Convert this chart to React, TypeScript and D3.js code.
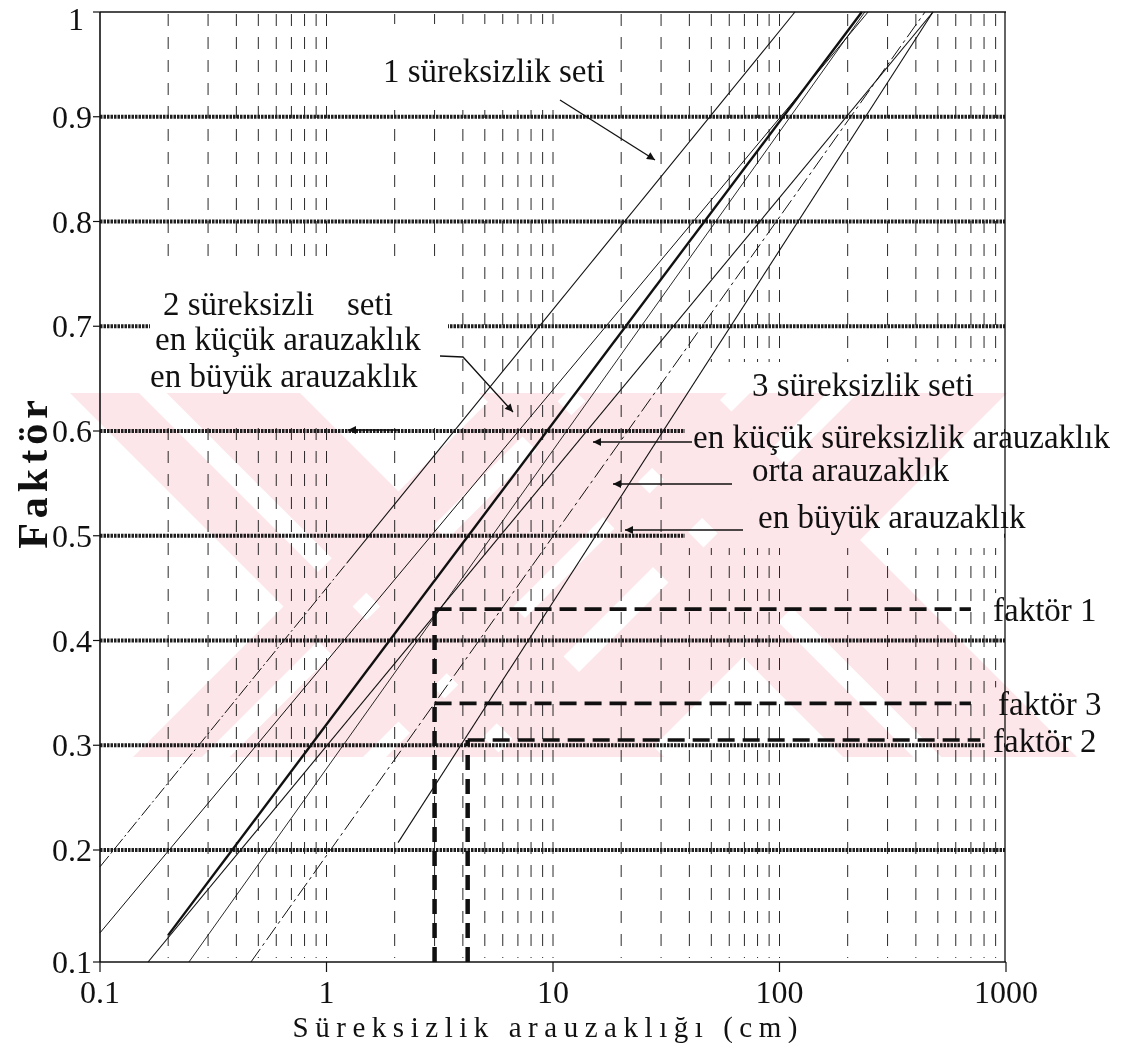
import * as d3 from 'd3';

// axis ticks
const xTickValues = [0.1, 1, 10, 100, 1000];
const xTickLabels = ['0.1', '1', '10', '100', '1000'];
const yTickValues = [0.1, 0.2, 0.3, 0.4, 0.5, 0.6, 0.7, 0.8, 0.9, 1];
const yTickLabels = ['0.1', '0.2', '0.3', '0.4', '0.5', '0.6', '0.7', '0.8', '0.9', '1'];
const gridLevels = [0.2, 0.3, 0.4, 0.5, 0.6, 0.7, 0.8, 0.9];

// diagonal lines: [spacing cm, factor] points
const set1 = [[0.1, 0.185], [1.23, 0.474], [117, 1]];
const set2Min = [[0.1, 0.126], [246, 1]];
const set2Max = [[0.2, 0.124], [231, 1]];
const set2Extra = [[0.247, 0.1], [238, 1]];
const set3Min = [[0.163, 0.1], [476, 1]];
const set3Mid = [[0.464, 0.1], [439, 1]];
const set3Max = [[2.07, 0.207], [476, 1]];

// factor readings
const factorNames = ['faktör 1', 'faktör 3', 'faktör 2'];
const factorSpacing = [3, 3, 4.2];
const factorValues = [0.43, 0.34, 0.305];
const factorEnds = [700, 700, 770];

const FONT = "'Liberation Serif', 'Times New Roman', serif";

export default function App() {
  const x = d3.scaleLog().domain([0.1, 1000]).range([100, 1006]);
  const y = d3.scaleLinear().domain([0.1, 0.2, 1]).range([962, 850, 12]);
  const line = d3
    .line<number[]>()
    .x((d) => x(d[0]))
    .y((d) => y(d[1]));

  const minor = x.ticks().filter((v) => v > 0.1 && v < 1000);

  const diagonals = [
    { pts: set1.slice(0, 2), w: 1, dash: '14 3 2 3' },
    { pts: set1.slice(1), w: 1.1, dash: undefined },
    { pts: set2Min, w: 1, dash: undefined },
    { pts: set2Max, w: 2.4, dash: undefined },
    { pts: set2Extra, w: 0.9, dash: undefined },
    { pts: set3Min, w: 1.1, dash: undefined },
    { pts: set3Mid, w: 1, dash: '16 4 3 4' },
    { pts: set3Max, w: 1.1, dash: undefined },
  ];

  // watermark bands (top-left x, width, direction)
  const bands = [
    [70, 230, 1],
    [497, 230, -1],
    [479, 234, 1],
    [750, 257, -1],
  ];
  const wmTop = 393;
  const wmH = 364;
  const bandPoly = (a: number, w: number, dir: number, f0: number, f1: number) => {
    const s = dir * wmH;
    const l = a + w * f0;
    const r = a + w * f1;
    return `${l},${wmTop} ${r},${wmTop} ${r + s},${wmTop + wmH} ${l + s},${wmTop + wmH}`;
  };

  const textStyle = { fontFamily: FONT, fontSize: 33, fill: '#111' };

  return (
    <svg width={1135} height={1043} style={{ position: 'absolute', left: 0, top: 0, background: '#fff' }}>
      <defs>
        <marker
          id="arr"
          viewBox="0 0 10 10"
          refX={10}
          refY={5}
          markerWidth={12}
          markerHeight={8}
          markerUnits="userSpaceOnUse"
          orient="auto"
        >
          <path d="M0,0 L10,5 L0,10 z" fill="#111" />
        </marker>
      </defs>
      <rect x={0} y={0} width={1135} height={1043} fill="#fff" />

      {/* vertical dashed grid */}
      <g>
        {minor.map((v, i) => (
          <line
            key={i}
            x1={x(v)}
            x2={x(v)}
            y1={14}
            y2={958}
            stroke="#2a2a2a"
            strokeWidth={1}
            strokeDasharray="12 11"
          />
        ))}
      </g>

      {/* horizontal dotted grid */}
      <g>
        {gridLevels.map((v) => (
          <line
            key={v}
            x1={x(0.1)}
            x2={1005}
            y1={y(v)}
            y2={y(v)}
            stroke="#1f1f1f"
            strokeWidth={4.2}
            strokeDasharray="2.5 1"
          />
        ))}
      </g>

      {/* white boxes behind annotations */}
      <g fill="#fff">
        <rect x={380} y={24} width={228} height={86} />
        <rect x={150} y={258} width={298} height={165} />
        <rect x={685} y={362} width={319} height={186} />
        {factorValues.map((v, i) => (
          <rect key={i} x={985} y={y(v) - 16} width={19} height={34} />
        ))}
      </g>

      {/* frame */}
      <g stroke="#111" fill="none">
        <line x1={x(0.1)} x2={x(0.1)} y1={y(1)} y2={y(0.1)} strokeWidth={1.6} />
        <line x1={x(0.1)} x2={x(1000)} y1={y(0.1)} y2={y(0.1)} strokeWidth={1.6} />
        <line x1={x(0.1)} x2={x(1000)} y1={y(1)} y2={y(1)} strokeWidth={1.3} />
        <line x1={x(1000) - 1} x2={x(1000) - 1} y1={y(1)} y2={y(0.1)} strokeWidth={1.3} />
        {yTickValues.map((v) => (
          <line key={v} x1={x(0.1) - 7} x2={x(0.1)} y1={y(v)} y2={y(v)} strokeWidth={1.2} />
        ))}
        {xTickValues.map((v) => (
          <line key={v} x1={x(v)} x2={x(v)} y1={y(0.1)} y2={y(0.1) + 10} strokeWidth={1.2} />
        ))}
      </g>

      {/* diagonal lines */}
      <g fill="none" stroke="#111">
        {diagonals.map((d, i) => (
          <path key={i} d={line(d.pts) || ''} strokeWidth={d.w} strokeDasharray={d.dash} />
        ))}
      </g>

      {/* factor readings */}
      <g fill="none" stroke="#111">
        {factorValues.map((v, i) => (
          <g key={i}>
            <path
              d={line([[factorSpacing[i], v], [factorEnds[i], v]]) || ''}
              strokeWidth={3.6}
              strokeDasharray="17 8"
            />
            {i !== 1 && (
              <path
                d={line([[factorSpacing[i], 0.1], [factorSpacing[i], v]]) || ''}
                strokeWidth={4.5}
                strokeDasharray="15 9"
              />
            )}
          </g>
        ))}
      </g>

      {/* leader arrows */}
      <g stroke="#111" strokeWidth={1.3} fill="none">
        <line x1={560} y1={100} x2={655} y2={160} markerEnd="url(#arr)" />
        <polyline points="440,356 463,357 513,412" markerEnd="url(#arr)" />
        <line x1={400} y1={430} x2={348} y2={430} markerEnd="url(#arr)" />
        <line x1={692} y1={442} x2={593} y2={442} markerEnd="url(#arr)" />
        <line x1={732} y1={484} x2={613} y2={484} markerEnd="url(#arr)" />
        <line x1={743} y1={530} x2={625} y2={530} markerEnd="url(#arr)" />
      </g>

      {/* annotations */}
      <g style={textStyle}>
        <text x={383} y={82}>1 süreksizlik seti</text>
        <text x={163} y={315}>2 süreksizli</text>
        <text x={347} y={315}>seti</text>
        <text x={155} y={350}>en küçük arauzaklık</text>
        <text x={150} y={387}>en büyük arauzaklık</text>
        <text x={752} y={396}>3 süreksizlik seti</text>
        <text x={693} y={448}>en küçük süreksizlik arauzaklık</text>
        <text x={752} y={481}>orta arauzaklık</text>
        <text x={758} y={528}>en büyük arauzaklık</text>
        {factorNames.map((n, i) => (
          <text key={n} x={i === 1 ? 998 : 993} y={y(factorValues[i]) + 12}>
            {n}
          </text>
        ))}
      </g>

      {/* tick labels */}
      <g style={{ fontFamily: FONT, fontSize: 32, fill: '#111' }}>
        {yTickValues.map((v, i) => (
          <text key={v} x={v === 1 ? 84 : 92} y={v === 1 ? 30 : y(v) + 11} textAnchor="end">
            {yTickLabels[i]}
          </text>
        ))}
        {xTickValues.map((v, i) => (
          <text key={v} x={x(v)} y={1003} textAnchor="middle">
            {xTickLabels[i]}
          </text>
        ))}
      </g>

      {/* axis titles */}
      <text
        x={545}
        y={1037}
        textAnchor="middle"
        textLength={505}
        lengthAdjust="spacing"
        style={{ fontFamily: FONT, fontSize: 29, fill: '#111' }}
      >
        Süreksizlik arauzaklığı (cm)
      </text>
      <text
        transform="translate(47,472) rotate(-90)"
        textAnchor="middle"
        style={{ fontFamily: FONT, fontSize: 42, fontWeight: 'bold', letterSpacing: 5, fill: '#111' }}
      >
        Faktör
      </text>

      {/* watermark */}
      <g fill="#fce6ea" style={{ mixBlendMode: 'multiply' }}>
        {bands.map((b, i) => (
          <g key={i}>
            <polygon points={bandPoly(b[0], b[1], b[2], 0, 0.3)} />
            <polygon points={bandPoly(b[0], b[1], b[2], 0.42, 1)} />
          </g>
        ))}
      </g>
    </svg>
  );
}
